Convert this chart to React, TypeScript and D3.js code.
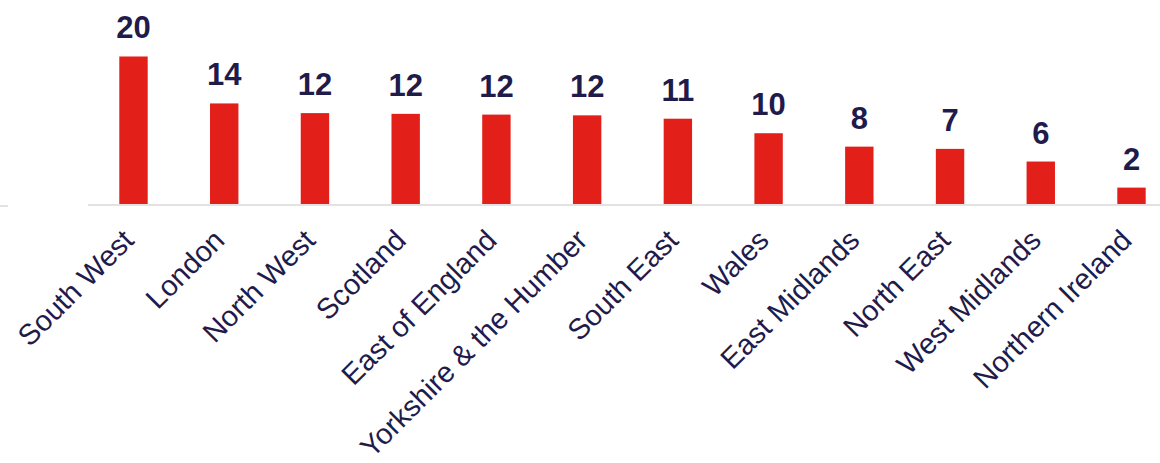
import React from "react";
import * as d3 from "d3";

const categories = [
  "South West",
  "London",
  "North West",
  "Scotland",
  "East of England",
  "Yorkshire & the Humber",
  "South East",
  "Wales",
  "East Midlands",
  "North East",
  "West Midlands",
  "Northern Ireland",
];
const values = [19.8, 13.5, 12.2, 12.1, 12.0, 11.9, 11.45, 9.5, 7.7, 7.4, 5.7, 2.2];

const W = 1160;
const H = 463;
const BAR = "#e31f1a";
const TEXT = "#1f1b4b";
const FONT = "'Liberation Sans', Arial, sans-serif";

export default function App() {
  const x = d3.scaleBand<string>().domain(categories).range([119.3, 1145.7]).paddingInner(0.687).paddingOuter(0);
  const y = d3.scaleLinear().domain([0, 20]).range([204, 55]);
  const bw = x.bandwidth();
  const angle = -45;
  return (
    <svg width={W} height={H} style={{ position: "absolute", left: 0, top: 0, display: "block", background: "#fff" }}>
      <line x1={0} x2={8} y1={206} y2={206} stroke="#d9d9d9" strokeWidth={1.5} />
      <line x1={88} x2={W} y1={205} y2={205} stroke="#d9d9d9" strokeWidth={1.5} />
      {categories.map((c, i) => {
        const v = values[i];
        const x0 = x(c) as number;
        const cx = x0 + bw / 2;
        return (
          <g key={c}>
            <rect x={x0} y={y(v)} width={bw} height={y(0) - y(v)} fill={BAR} />
            <text x={cx} y={y(v) - 18} textAnchor="middle" fontFamily={FONT} fontWeight="bold" fontSize={31} fill={TEXT}>
              {Math.round(v)}
            </text>
            <text
              transform={`translate(${cx + 2},${242}) rotate(${angle})`}
              textAnchor="end"
              fontFamily={FONT}
              fontSize={29}
              fill={TEXT}
            >
              {c}
            </text>
          </g>
        );
      })}
    </svg>
  );
}
